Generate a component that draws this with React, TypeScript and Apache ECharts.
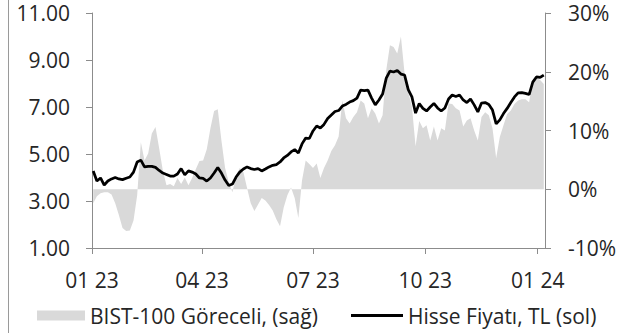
import React, { useEffect, useRef } from "react";
import * as echarts from "echarts";

const dates = [
  "2023-01-02","2023-01-05","2023-01-08","2023-01-11","2023-01-14","2023-01-17","2023-01-20","2023-01-23","2023-01-26","2023-01-29",
  "2023-02-01","2023-02-04","2023-02-07","2023-02-10","2023-02-13","2023-02-16","2023-02-19","2023-02-22","2023-02-25","2023-02-28",
  "2023-03-03","2023-03-06","2023-03-09","2023-03-12","2023-03-15","2023-03-18","2023-03-21","2023-03-24","2023-03-27","2023-03-30",
  "2023-04-02","2023-04-05","2023-04-08","2023-04-11","2023-04-14","2023-04-17","2023-04-20","2023-04-23","2023-04-26","2023-04-29",
  "2023-05-02","2023-05-05","2023-05-08","2023-05-11","2023-05-14","2023-05-17","2023-05-20","2023-05-23","2023-05-26","2023-05-29",
  "2023-06-01","2023-06-04","2023-06-07","2023-06-10","2023-06-13","2023-06-16","2023-06-19","2023-06-22","2023-06-25","2023-06-28",
  "2023-07-01","2023-07-04","2023-07-07","2023-07-10","2023-07-13","2023-07-16","2023-07-19","2023-07-22","2023-07-25","2023-07-28",
  "2023-07-31","2023-08-03","2023-08-06","2023-08-09","2023-08-12","2023-08-15","2023-08-18","2023-08-21","2023-08-24","2023-08-27",
  "2023-08-30","2023-09-02","2023-09-05","2023-09-08","2023-09-11","2023-09-14","2023-09-17","2023-09-20","2023-09-23","2023-09-26",
  "2023-09-29","2023-10-02","2023-10-05","2023-10-08","2023-10-11","2023-10-14","2023-10-17","2023-10-20","2023-10-23","2023-10-26",
  "2023-10-29","2023-11-01","2023-11-04","2023-11-07","2023-11-10","2023-11-13","2023-11-16","2023-11-19","2023-11-22","2023-11-25",
  "2023-11-28","2023-12-01","2023-12-04","2023-12-07","2023-12-10","2023-12-13","2023-12-16","2023-12-19","2023-12-22","2023-12-25",
  "2023-12-28","2023-12-31","2024-01-03","2024-01-06",
];

// Hisse Fiyatı, TL (sol)
const price = [
  4.28, 3.85, 3.98, 3.68, 3.85, 3.94, 4.0, 3.94, 3.91, 3.97,
  4.02, 4.23, 4.66, 4.74, 4.45, 4.47, 4.47, 4.43, 4.3, 4.19,
  4.13, 4.06, 4.06, 4.15, 4.38, 4.11, 4.28, 4.23, 4.15, 3.98,
  3.96, 3.85, 3.98, 4.19, 4.43, 4.19, 3.89, 3.66, 3.72, 4.02,
  4.23, 4.36, 4.45, 4.38, 4.34, 4.38, 4.28, 4.36, 4.45, 4.52,
  4.55, 4.66, 4.83, 4.94, 5.09, 5.19, 5.04, 5.43, 5.68, 5.66,
  5.98, 6.19, 6.11, 6.26, 6.51, 6.66, 6.81, 6.85, 7.04, 7.11,
  7.21, 7.27, 7.38, 7.72, 7.7, 7.72, 7.38, 7.09, 7.3, 7.55,
  8.23, 8.53, 8.49, 8.55, 8.4, 8.36, 7.74, 7.43, 6.74, 7.15,
  6.94, 6.83, 7.0, 7.15, 6.96, 6.83, 6.96, 7.34, 7.51, 7.45,
  7.51, 7.3, 7.19, 7.34, 7.09, 6.79, 7.17, 7.19, 7.11, 6.87,
  6.28, 6.45, 6.72, 6.94, 7.19, 7.43, 7.6, 7.61, 7.58, 7.53,
  8.06, 8.28, 8.26, 8.36,
];

// BIST-100 Göreceli, (sağ) in %
const relative = [
  -2.4, -1.2, -0.7, -0.5, -0.5, -0.9, -2.4, -4.4, -6.6, -7.1,
  -7.0, -5.3, -1.0, 8.0, 4.9, 6.1, 9.5, 10.6, 7.0, 3.2,
  0.7, 0.9, 0.5, 1.9, 0.9, 2.0, 0.7, 1.9, 3.4, 4.8,
  4.9, 6.8, 10.4, 13.3, 13.6, 8.3, 3.6, 1.2, -0.5, 2.4,
  3.6, 2.9, 0.2, -2.4, -3.7, -2.6, -1.5, -1.9, -2.7, -3.6,
  -5.1, -6.3, -3.1, -1.0, 0.3, -1.5, -4.9, 1.5, 4.9, 4.3,
  3.6, 4.4, 1.9, 3.6, 4.9, 6.5, 7.5, 9.0, 15.1, 12.1,
  11.2, 12.3, 13.1, 15.1, 14.6, 12.1, 13.8, 12.9, 11.2, 12.6,
  20.3, 24.5, 24.2, 23.1, 26.0, 19.7, 16.5, 14.1, 7.3, 11.6,
  10.4, 10.9, 8.3, 10.7, 8.3, 10.4, 10.0, 14.6, 14.5, 13.8,
  13.4, 10.7, 11.7, 12.1, 10.0, 8.3, 12.3, 13.1, 12.6, 10.4,
  5.3, 8.9, 10.9, 12.8, 13.4, 14.5, 15.1, 15.3, 15.3, 14.8,
  18.6, 19.1, 18.6, 17.9,
];

const seriesNames = ["BIST-100 Göreceli, (sağ)", "Hisse Fiyatı, TL (sol)"];
const xTickDates = ["2023-01-01", "2023-04-01", "2023-07-01", "2023-10-01", "2024-01-01"];
const xRange = ["2023-01-01", "2024-01-07"];

const toTime = (s: string) => {
  const [y, m, d] = s.split("-").map(Number);
  return Date.UTC(y, m - 1, d);
};

const FONT = "Open Sans";
const TXT = "#262626";
const AX = "#8c8c8c";

export default function App() {
  const ref = useRef<HTMLDivElement>(null);
  useEffect(() => {
    if (!ref.current) return;
    const chart = echarts.init(ref.current, null, { renderer: "svg" });
    const ticks = xTickDates.map(toTime);
    chart.setOption({
      animation: false,
      textStyle: { fontFamily: FONT },
      grid: { left: 92, right: 90, top: 13, bottom: 85, containLabel: false },
      legend: [
        {
          data: [seriesNames[0]],
          left: 37,
          top: 305,
          padding: 0,
          icon: "rect",
          itemWidth: 48,
          itemHeight: 10,
          itemStyle: { color: "#d9d9d9" },
          textStyle: { fontFamily: FONT, fontSize: 21, color: TXT, lineHeight: 21 },
        },
        {
          data: [seriesNames[1]],
          left: 351,
          top: 305,
          padding: 0,
          icon: "rect",
          itemWidth: 52,
          itemHeight: 3,
          itemStyle: { color: "#000" },
          textStyle: { fontFamily: FONT, fontSize: 21, color: TXT, lineHeight: 21 },
        },
      ],
      xAxis: {
        type: "value",
        min: toTime(xRange[0]),
        max: toTime(xRange[1]),
        axisLine: { onZero: false, lineStyle: { color: AX, width: 1 } },
        axisTick: { show: true, length: 6, customValues: ticks, lineStyle: { color: AX } },
        axisLabel: {
          customValues: ticks,
          margin: 21,
          fontFamily: FONT,
          fontSize: 21,
          color: TXT,
          formatter: (v: number) => {
            const d = new Date(v);
            return String(d.getUTCMonth() + 1).padStart(2, "0") + " " + String(d.getUTCFullYear()).slice(2);
          },
        },
        splitLine: { show: false },
      },
      yAxis: [
        {
          type: "value",
          min: 1,
          max: 11,
          interval: 2,
          position: "left",
          axisLine: { show: true, lineStyle: { color: AX } },
          axisTick: { show: true, length: 6, lineStyle: { color: AX } },
          axisLabel: {
            margin: 22,
            fontFamily: FONT,
            fontSize: 21,
            color: TXT,
            formatter: (v: number) => v.toFixed(2),
          },
          splitLine: { show: false },
        },
        {
          type: "value",
          min: -10,
          max: 30,
          interval: 10,
          position: "right",
          axisLine: { show: true, lineStyle: { color: AX } },
          axisTick: { show: true, length: 6, lineStyle: { color: AX } },
          axisLabel: {
            margin: 23,
            fontFamily: FONT,
            fontSize: 21,
            color: TXT,
            formatter: (v: number) => v + "%",
          },
          splitLine: { show: false },
        },
      ],
      series: [
        {
          name: seriesNames[0],
          type: "line",
          yAxisIndex: 1,
          symbol: "none",
          data: dates.map((d, i) => [toTime(d), relative[i]]),
          lineStyle: { width: 0, color: "#d9d9d9" },
          itemStyle: { color: "#d9d9d9" },
          areaStyle: { color: "#d9d9d9", opacity: 1 },
          z: 1,
        },
        {
          name: seriesNames[1],
          type: "line",
          yAxisIndex: 0,
          symbol: "none",
          data: dates.map((d, i) => [toTime(d), price[i]]),
          lineStyle: { width: 2.75, color: "#000" },
          itemStyle: { color: "#000" },
          z: 3,
        },
      ],
      graphic: [
        {
          type: "line",
          shape: { x1: 8.5, y1: 0, x2: 8.5, y2: 333 },
          style: { stroke: "#9a9a9a", lineWidth: 1 },
        },
      ],
    });
    return () => chart.dispose();
  }, []);
  return (
    <div
      ref={ref}
      style={{ position: "absolute", left: 0, top: 0, width: 635, height: 333, background: "#fff" }}
    />
  );
}
